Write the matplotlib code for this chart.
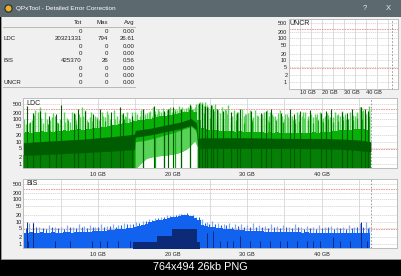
import numpy as np
import matplotlib
matplotlib.use("Agg")
import matplotlib.pyplot as plt
import matplotlib.transforms as mtransforms
from matplotlib.patches import Rectangle, Circle
from matplotlib.ticker import NullLocator

W, H = 402, 276
plt.rcParams['font.family'] = ['Liberation Sans', 'DejaVu Sans']

# summary table
row_names = ["", "LDC", "", "", "BIS", "", "", "UNCR"]
col_tot = ["0", "20321331", "0", "0", "425370", "0", "0", "0"]
col_max = ["0", "794", "0", "0", "26", "0", "0", "0"]
col_avg = ["0.00", "26.61", "0.00", "0.00", "0.56", "0.00", "0.00", "0.00"]

y_ticks = [1, 2, 5, 10, 20, 50, 100, 200, 500]
x_ticks = [10, 20, 30, 40]
x_tick_labels = ["10 GB", "20 GB", "30 GB", "40 GB"]
grid_x = [5, 10, 15, 20, 25, 30, 35, 40, 45]
disc_end = 46.6
limit_hi, limit_lo = 280, 4.5

# LDC: sample every 0.5 GB
ldc_x = np.arange(0, 47, 0.5)
ldc_top = [24, 27, 25, 28, 26, 29, 27, 30, 28, 31, 30, 33, 31, 34, 33, 36, 35, 39, 38, 42,
           43, 47, 46, 52, 54, 59, 61, 67, 70, 77,
           83, 90, 96, 104, 110, 119, 126, 136, 144, 155, 165, 178, 190, 205, 222, 260, 210,
           90,
           40, 36, 35, 33, 32, 30, 31, 29, 30, 28, 29, 27, 28, 26, 27, 26, 27, 25, 26, 25,
           26, 24, 25, 24, 25, 24, 25, 24, 25, 24, 26, 25, 26, 27, 28, 29, 30, 32, 33, 35,
           34, 37, 36, 38, 35, 30]
# hole below the band between 15 and 23 GB
gap_x = [15.0, 15.5, 16, 16.5, 17, 17.5, 18, 18.5, 19, 19.5, 20, 20.5, 21, 21.5, 22, 22.5, 23, 23.3]
gap_white = [0.6, 0.9, 1.3, 1.8, 2.0, 2.2, 2.3, 2.4, 2.5, 2.6, 2.8, 3.0, 3.4, 4.0, 5.0, 7.5, 11, 6]
gap_mid = [10, 10.5, 11, 12, 13, 14.5, 16, 18, 20, 22, 25, 28, 32, 37, 42, 48, 35, 20]
# dark core band
dark_x = [0, 2, 4, 6, 8, 10, 12, 14, 14.9, 15.0, 17, 19, 21, 22.5, 23.2, 23.4, 24, 30, 36, 40, 43, 45, 46.6]
dark_lo = [2.5, 2.6, 2.8, 3.0, 3.2, 3.5, 3.8, 4.2, 4.5, 16, 20, 28, 38, 55, 35, 4.8, 5, 5, 5, 4.8, 4.5, 4, 3.5]
dark_hi = [9, 10, 11, 12, 13, 15, 17, 20, 22, 32, 40, 55, 75, 110, 70, 14, 15, 15, 14, 14, 13, 12, 10]
# tall spikes
ldc_spk_x = [1.6, 2.0, 2.2, 2.9, 3.8, 4.2, 5.1, 5.4, 6.5, 7.4, 7.8, 8.3, 8.9, 9.6, 10.5, 10.9, 11.4,
             12.1, 12.5, 13.2, 13.9, 14.3, 15.0, 15.6, 16.3, 16.8, 17.2, 17.9, 18.5, 19.2, 19.9,
             20.6, 21.5, 22.1, 22.8, 23.2, 23.7, 24.0, 24.4, 24.8, 25.3, 25.7, 26.1, 26.6, 27.0,
             27.5, 28.2, 28.8, 29.3, 29.9, 30.4, 31.1, 31.5, 32.0, 32.6, 33.1, 33.7, 34.4, 35.1,
             35.5, 36.0, 36.7, 37.3, 37.8, 38.4, 39.1, 39.8, 40.5, 41.1, 41.8, 42.5, 43.1, 43.8,
             44.5, 45.1, 45.6, 46.0]
ldc_spk_v = [255, 215, 360, 215, 128, 150, 91, 215, 215, 180, 360, 255, 128, 150, 215, 128, 180,
             255, 150, 180, 215, 108, 215, 150, 180, 215, 150, 180, 215, 255, 215,
             255, 255, 360, 300, 510, 600, 510, 600, 360, 430, 510, 255, 360, 300,
             430, 255, 215, 300, 180, 255, 255, 150, 180, 255, 215, 150, 255, 180,
             128, 150, 215, 150, 215, 150, 180, 215, 150, 128, 215, 150, 180, 215,
             150, 360, 255, 180]
ldc_spk2_x = [0.3, 1.1, 2.6, 3.1, 4.5, 5.8, 6.2, 7.1, 8.0, 9.2, 9.9, 10.2, 11.6, 12.8, 13.6, 14.1,
              14.9, 15.3, 16.6, 17.6, 18.2, 18.9, 19.5, 20.3, 21.0, 21.8, 22.5, 23.0, 23.5, 24.2,
              25.0, 25.5, 26.3, 27.3, 27.8, 28.5, 29.6, 30.1, 30.8, 31.8, 32.3, 32.9, 33.4, 34.1,
              34.7, 35.8, 36.4, 37.0, 37.6, 38.1, 38.8, 39.4, 40.2, 40.8, 41.5, 42.2, 42.8, 43.4,
              44.2, 44.8, 45.4, 46.3]
ldc_spk2_v = [60, 90, 70, 110, 80, 120, 75, 95, 140, 85, 130, 90, 110, 95, 150, 120,
              140, 180, 200, 230, 250, 220, 280, 300, 280, 330, 400, 350, 450, 420,
              300, 250, 200, 180, 150, 170, 140, 200, 130, 160, 120, 150, 180, 120,
              140, 160, 110, 170, 120, 150, 130, 170, 120, 160, 130, 170, 140, 120,
              160, 200, 250, 300]
ldc_spk3_x = [0.1, 0.7, 1.4, 2.4, 3.6, 4.0, 4.9, 5.6, 6.9, 7.6,
              8.5, 9.0, 9.4, 10.7, 11.2, 12.3, 13.0, 13.8, 14.5, 15.8,
              16.1, 17.0, 17.4, 18.0, 18.7, 19.7, 20.1, 20.9, 21.3, 22.3,
              23.4, 23.9, 24.6, 25.2, 25.9, 26.8, 27.2, 28.0, 28.6, 29.1,
              29.7, 30.6, 31.3, 32.2, 32.8, 33.5, 34.2, 34.9, 35.3, 36.2,
              36.9, 37.5, 38.2, 38.6, 39.3, 40.0, 40.7, 41.3, 42.0, 42.7,
              43.3, 44.0, 44.7, 45.3, 45.8, 46.4]
ldc_spk3_v = [100, 70, 160, 120, 90, 200, 110, 80, 170, 130,
              90, 220, 110, 150, 240, 100, 180, 130, 210, 260,
              300, 250, 350, 280, 330, 380, 300, 420, 350, 480,
              500, 600, 450, 380, 300, 200, 260, 150, 220, 120,
              180, 100, 160, 210, 90, 140, 200, 110, 170, 90,
              150, 210, 100, 180, 130, 90, 200, 110, 160, 240,
              100, 150, 220, 380, 200, 400]
ldc_mid_x = [0.9, 3.3, 4.7, 6.0, 7.0, 8.6, 9.9, 11.0, 11.8, 13.5, 14.7, 16.0, 17.6, 18.9, 20.3, 21.2,
             22.4, 24.2, 25.0, 25.9, 26.8, 27.8, 28.5, 29.6, 30.7, 31.8, 32.9, 33.9, 34.8, 35.8,
             36.4, 37.0, 38.1, 38.8, 39.5, 40.2, 40.8, 41.5, 42.2, 42.8, 43.5, 44.2, 44.8, 45.4, 46.3]
ldc_mid_v = [80, 60, 70, 90, 65, 75, 100, 85, 70, 110, 95, 150, 170, 200, 230, 260,
             320, 200, 120, 90, 110, 80, 95, 70, 85, 100, 75, 90, 80, 100,
             70, 85, 95, 70, 90, 80, 100, 75, 85, 95, 110, 90, 120, 100, 140]
ldc_dark_x = [0.5, 1.3, 2.2, 3.5, 4.4, 5.1, 6.8, 7.3, 8.2, 9.4, 10.3, 11.8, 12.9, 13.4, 14.6, 16.1,
              17.5, 18.8, 19.4, 20.1, 21.2, 22.4, 23.6, 23.9, 24.3, 24.6, 25.1, 25.4, 26.0, 26.8,
              27.9, 28.6, 29.1, 30.5, 31.8, 32.5, 33.2, 34.6, 35.8, 36.3, 37.1, 38.5, 39.9, 40.6,
              41.3, 42.7, 43.4, 44.1, 45.3, 45.8, 46.2]
ldc_dark_v = [400, 200, 250, 150, 180, 450, 200, 300, 250, 180, 280, 220, 350, 200, 150, 300,
              400, 250, 300, 350, 300, 450, 550, 500, 400, 350, 450, 300, 300, 250,
              220, 200, 300, 250, 200, 230, 280, 200, 300, 180, 230, 260, 200, 250,
              280, 220, 200, 300, 350, 300, 250]

# BIS: sample every 0.5 GB
bis_x = np.arange(0, 47, 0.5)
bis_top = [3.2, 3.0, 3.3, 3.1, 3.0, 3.3, 3.2, 3.1, 3.4, 3.2, 3.1, 3.4, 3.3, 3.2, 3.5, 3.3, 3.4, 3.6, 3.5, 3.7,
           3.8, 4.0, 3.9, 4.2, 4.3, 4.5, 4.7, 4.9, 5.2, 5.4,
           5.8, 6.5, 7.2, 8.2, 9.3, 10.5, 11.5, 12.5, 13.5, 14.8, 15.8, 16.5, 18.5, 19.5, 19.0, 17.5, 15.0, 12.0,
           7.0, 6.2, 5.8, 5.5, 5.2, 5.0, 4.8, 4.6, 4.5, 4.3, 4.2, 4.1, 4.0, 3.9, 3.8, 3.8, 3.7, 3.6, 3.6, 3.5,
           3.5, 3.4, 3.4, 3.3, 3.4, 3.3, 3.3, 3.2, 3.3, 3.2, 3.2, 3.1, 3.2, 3.1, 3.2, 3.1, 3.1, 3.0, 3.1, 3.0,
           3.1, 3.0, 3.1, 3.0, 3.1, 3.0]
bis_spk_x = [0.8, 1.3, 2.1, 3.4, 4.2, 5.0, 5.9, 6.7, 7.4, 8.1, 8.9, 9.6, 10.4, 11.2, 12.0, 12.7, 13.5,
             14.3, 15.1, 16.0, 16.8, 17.6, 18.4, 19.2, 20.0, 20.8, 21.6, 22.4, 23.2, 24.0, 24.6,
             25.3, 26.1, 26.9, 27.6, 28.4, 29.2, 30.0, 30.8, 31.6, 32.4, 33.2, 34.0, 34.8, 35.6,
             36.4, 37.2, 38.0, 38.8, 39.6, 40.4, 41.2, 42.0, 42.8, 43.6, 44.4, 45.2, 45.9, 46.4]
bis_spk_v = [9, 10, 6, 7, 5.5, 6, 7, 6, 8, 6.5, 7, 6, 7.5, 6.5, 8, 7, 9,
             8, 10, 11, 13, 15, 17, 19, 21, 23, 22, 20, 17, 13, 10,
             11, 9, 8, 9, 7.5, 8, 7, 9, 7, 6.5, 8, 6.5, 7, 6,
             7.5, 6, 6.5, 5.5, 7, 6, 6.5, 5.5, 6, 7, 6, 9, 10, 6]
bis_mid_x = [0.4, 1.7, 2.6, 3.0, 3.8, 4.6, 5.4, 6.3, 7.0, 7.8, 8.5, 9.3, 10.0, 10.8, 11.6, 12.4,
             13.1, 13.9, 14.7, 15.5, 16.4, 17.2, 18.0, 18.8, 19.6, 20.4, 21.2, 22.0, 22.8, 23.6,
             24.3, 24.9, 25.7, 26.5, 27.2, 28.0, 28.8, 29.6, 30.4, 31.2, 32.0, 32.8, 33.6, 34.4,
             35.2, 36.0, 36.8, 37.6, 38.4, 39.2, 40.0, 40.8, 41.6, 42.4, 43.2, 44.0, 44.8, 45.6, 46.2]
bis_mid_v = [5, 6, 5, 4.5, 6, 5, 4.5, 5.5, 5, 6, 5, 5.5, 6, 5.5, 6.5, 6,
             7, 7.5, 8, 9, 11, 12, 14, 16, 18, 20, 23, 24, 21, 16,
             9, 8, 7.5, 7, 7, 6, 6.5, 5.5, 6, 5.5, 6, 5, 6, 5,
             5.5, 5, 5.5, 4.5, 5, 4.5, 5, 5.5, 4.5, 5, 4.5, 5, 5.5, 6, 5]
navy_x = [14.7, 17.9, 19.9, 23.3, 23.7]
navy_v = [1.2, 2.2, 4.6, 1.2, 1.2]
bis_dark_x = [0.5, 0.66, 1.3, 1.33, 4.24, 6.25, 9.16, 10.27, 11.17, 12.73, 14.3, 24.58, 25.47, 26.37,
              27.26, 28.15, 29.05, 30.39, 31.73, 33.07, 34.41, 35.31, 36.65, 37.99, 38.88, 39.78,
              41.5, 42.46, 43.8, 45.3, 46.03]
bis_dark_v = [10, 1.3, 9, 1.3, 1.3, 1.3, 1.3, 1.3, 1.3, 1.3, 1.3, 3, 4, 1.3,
              1.3, 1.3, 2.2, 1.3, 1.3, 1.3, 1.3, 1.3, 1.3, 1.3, 1.3, 1.3,
              2, 1.3, 1.3, 10, 1.3]

light_green, mid_green, dark_green, blend_green = '#5ad25a', '#08b008', '#005c00', '#067f06'
light_blue, mid_blue, navy = '#86aaf0', '#1262f0', '#0c2a78'
floor = 0.4


def px_rect(x0, y0, x1, y1):
    return [x0 / W, 1 - y1 / H, (x1 - x0) / W, (y1 - y0) / H]


def setup(ax, xmax, ylo, yhi, xpad, label, ldx=0):
    ax.set_facecolor('white')
    ax.set_yscale('log')
    ax.set_xlim(0, xmax)
    ax.set_ylim(ylo, yhi)
    for s in ax.spines.values():
        s.set_color('#bcbcbc')
        s.set_linewidth(0.7)
    ax.set_yticks(y_ticks)
    ax.set_yticklabels([str(v) for v in y_ticks])
    ax.yaxis.set_minor_locator(NullLocator())
    ax.set_xticks(x_ticks)
    ax.set_xticklabels(x_tick_labels)
    ax.tick_params(length=0, labelsize=4, colors='#202020')
    ax.tick_params(axis='y', pad=1)
    ax.tick_params(axis='x', pad=xpad)
    if ldx:
        off = mtransforms.ScaledTranslation(ldx / 100, 0, fig.dpi_scale_trans)
        for t in ax.get_xticklabels():
            t.set_transform(t.get_transform() + off)
    for v in grid_x:
        ax.axvline(v, color='#d6d6d6', lw=0.6, zorder=0.5)
    for v in y_ticks:
        ax.axhline(v, color='#cfcfcf', lw=0.5, ls=(0, (2, 1)), zorder=0.5)
    for v in (limit_hi, limit_lo):
        ax.axhline(v, color='#ee8c8c', lw=0.6, ls=(0, (2, 1)), zorder=0.6)
    ax.axvline(disc_end, color='#8c8c8c', lw=0.6, ls=(0, (2, 2)), zorder=6)
    ax.text(0.008 * xmax, yhi * 0.62, label, fontsize=5, color='#202020', va='center', zorder=7)


fig = plt.figure(figsize=(W / 100, H / 100), dpi=100)
fig.patch.set_facecolor('black')

# window chrome + table
bg = fig.add_axes([0, 0, 1, 1])
bg.set_xlim(0, W)
bg.set_ylim(H, 0)
bg.axis('off')
bg.add_patch(Rectangle((0.5, 0), W - 1.5, 258.5, facecolor='#f0f0f0', edgecolor='#9a9a9a', lw=0.7))
bg.add_patch(Rectangle((0, 0), W, 17, facecolor='#5c6a70', edgecolor='none'))
bg.add_patch(Circle((8.5, 8.5), 3.6, facecolor='#e8b32c', edgecolor='#2a2a2a', lw=0.8))
bg.text(16.5, 8.8, "QPxTool - Detailed Error Correction", color='white', fontsize=4.6, va='center')
bg.text(365, 8.8, "?", color='#e8e8e8', fontsize=5.5, va='center', ha='center')
bg.text(388, 8.8, "X", color='#e8e8e8', fontsize=5.5, va='center', ha='center')

bg.text(81.7, 22.7, "Tot", fontsize=4.4, ha='right', va='center', color='#202020')
bg.text(108.5, 22.7, "Max", fontsize=4.4, ha='right', va='center', color='#202020')
bg.text(134.5, 22.7, "Avg", fontsize=4.4, ha='right', va='center', color='#202020')
bg.plot([3, 135], [26.7, 26.7], color='#b0b0b0', lw=0.6)
bg.plot([3, 135], [86.8, 86.8], color='#b0b0b0', lw=0.6)
for i in range(len(row_names)):
    yy = 31.6 + 7.3 * i
    bg.text(3.3, yy, row_names[i], fontsize=4.4, va='center', color='#202020')
    bg.text(81.7, yy, col_tot[i], fontsize=4.4, ha='right', va='center', color='#202020')
    bg.text(108.5, yy, col_max[i], fontsize=4.4, ha='right', va='center', color='#202020')
    bg.text(134.5, yy, col_avg[i], fontsize=4.4, ha='right', va='center', color='#202020')

bg.text(200.5, 267.5, "764x494 26kb PNG", color='white', fontsize=7.8, ha='center', va='center')

# UNCR (empty)
ax_u = fig.add_axes(px_rect(288.6, 18.5, 398, 88.5))
setup(ax_u, 49.3, 0.49, 818, 1.2, "UNCR", ldx=-3)

# LDC
ax_l = fig.add_axes(px_rect(23.4, 98.5, 397, 168.3))
setup(ax_l, 50.1, 0.64, 870, 2.6, "LDC")
for xs, vs in ((ldc_spk_x, ldc_spk_v), (ldc_spk2_x, ldc_spk2_v), (ldc_spk3_x, ldc_spk3_v)):
    ax_l.vlines(xs, floor, vs, color=light_green, lw=1.0, zorder=1.5)
ax_l.fill_between(ldc_x, floor, ldc_top, step='mid', color=mid_green, lw=0, zorder=2)
ax_l.fill_between(gap_x, floor, gap_white, color='white', lw=0, zorder=2.1)
ax_l.fill_between(gap_x, gap_white, gap_mid, color=light_green, lw=0, zorder=2.2)
ax_l.vlines(ldc_mid_x, floor, ldc_mid_v, color=mid_green, lw=0.9, zorder=2.5)
mask = [(v < 15 or v > 23.3) for v in dark_x]
ax_l.fill_between(dark_x, floor, dark_lo, where=mask, color=blend_green, lw=0, zorder=3)
ax_l.fill_between(dark_x, dark_lo, dark_hi, color=dark_green, lw=0, zorder=3)
ax_l.vlines(ldc_dark_x, floor, ldc_dark_v, color=dark_green, lw=0.8, zorder=3.5)

# BIS
ax_b = fig.add_axes(px_rect(23.4, 178.5, 397, 248.3))
setup(ax_b, 50.1, 0.64, 870, 2.6, "BIS")
ax_b.vlines(bis_spk_x, floor, bis_spk_v, color=light_blue, lw=0.9, zorder=1.5)
ax_b.fill_between(bis_x, floor, bis_top, step='mid', color=mid_blue, lw=0, zorder=2)
ax_b.vlines(bis_mid_x, floor, bis_mid_v, color=mid_blue, lw=0.8, zorder=2.5)
ax_b.fill_between(navy_x, floor, navy_v, step='post', color=navy, lw=0, zorder=3)
ax_b.vlines(bis_dark_x, floor, bis_dark_v, color=navy, lw=0.7, zorder=3.5)

fig.savefig("out.png", dpi=100, facecolor=fig.get_facecolor())
